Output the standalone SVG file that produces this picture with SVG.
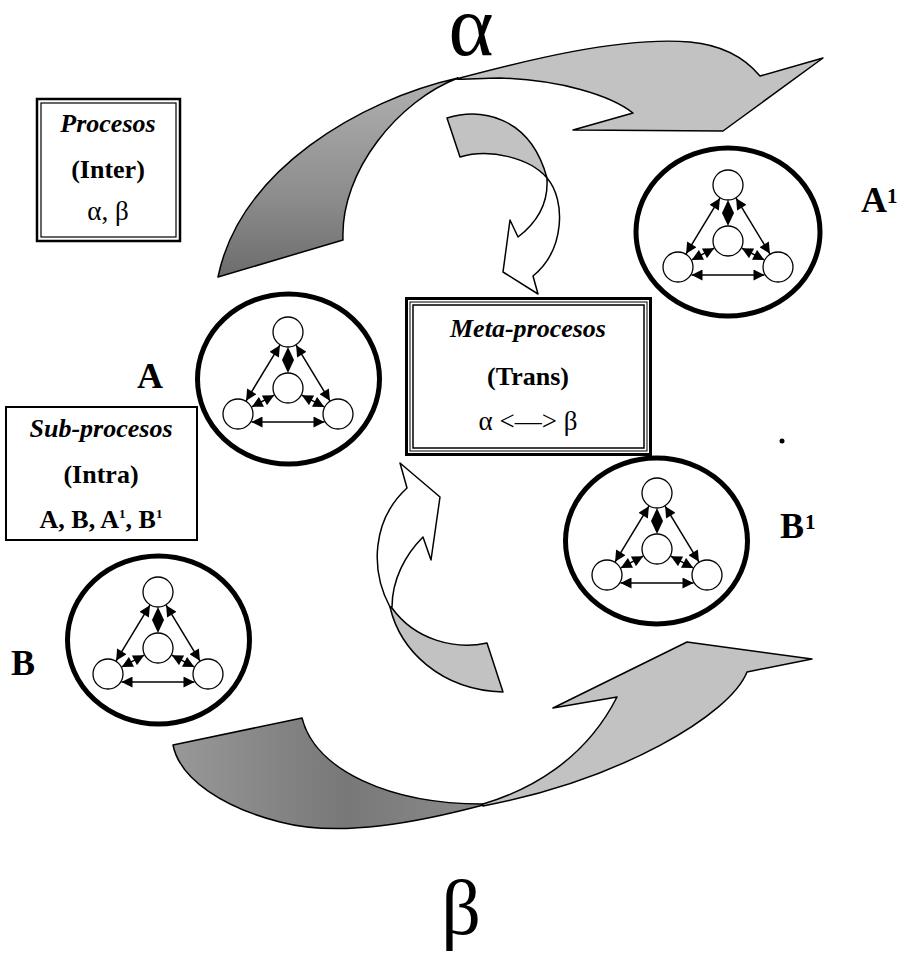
<svg xmlns="http://www.w3.org/2000/svg" xmlns:xlink="http://www.w3.org/1999/xlink" width="903" height="955" viewBox="0 0 903 955">
<style>
  text { font-family: "Liberation Serif", "Times New Roman", serif; fill: #000; }
  .bi { font-weight: bold; font-style: italic; font-size: 26px; }
  .b { font-weight: bold; font-size: 26px; }
  .r { font-size: 27px; }
  .lbl { font-weight: bold; font-size: 36px; }
  .sup { font-weight: bold; font-size: 21px; }
  .big { stroke: #000; stroke-width: 5; fill: #fff; }
  .node { stroke: #000; stroke-width: 1.3; fill: #fff; }
  .link { stroke: #000; stroke-width: 1.5; fill: none; marker-start: url(#ah); marker-end: url(#ah); }
  .shape { stroke: #000; stroke-width: 1.5; stroke-linejoin: round; }
  .light { fill: #c2c2c2; }
  .white { fill: #fff; }
</style>
<defs>
  <marker id="ah" viewBox="0 0 10 10" refX="10" refY="5" markerWidth="13" markerHeight="11" markerUnits="userSpaceOnUse" orient="auto-start-reverse">
    <path d="M0,0 L10,5 L0,10 Z" fill="#000"/>
  </marker>
  <linearGradient id="darkTop" x1="0" y1="80" x2="0" y2="277" gradientUnits="userSpaceOnUse">
    <stop offset="0" stop-color="#b0b0b0"/>
    <stop offset="0.6" stop-color="#8c8c8c"/>
    <stop offset="1" stop-color="#6c6c6c"/>
  </linearGradient>
  <linearGradient id="darkBot" x1="173" y1="0" x2="487" y2="0" gradientUnits="userSpaceOnUse">
    <stop offset="0" stop-color="#989898"/>
    <stop offset="0.55" stop-color="#787878"/>
    <stop offset="1" stop-color="#8c8c8c"/>
  </linearGradient>
  <g id="motif">
    <line class="link" x1="-8.1" y1="-34.8" x2="-41.9" y2="20.8"/>
    <line class="link" x1="8.1" y1="-34.8" x2="41.9" y2="20.8"/>
    <line class="link" x1="-13.8" y1="15.2" x2="-36.3" y2="26.9"/>
    <line class="link" x1="13.8" y1="15.2" x2="36.3" y2="26.9"/>
    <line class="link" x1="-36.5" y1="42" x2="36.5" y2="42"/>
    <polygon points="0,-33 6,-20 0,-7 -6,-20" fill="#000"/>
    <circle class="node" cx="0" cy="-48" r="15"/>
    <circle class="node" cx="0" cy="8" r="15"/>
    <circle class="node" cx="-50" cy="34" r="15"/>
    <circle class="node" cx="50" cy="34" r="15"/>
  </g>
</defs>
<rect x="0" y="0" width="903" height="955" fill="#fff"/>

<g id="connectors">
  <g id="arrow-alpha">
    <path class="shape" fill="url(#darkTop)" d="M458,78 C360,100 240,170 218,277 L343,240 C340,170 400,100 458,78 Z"/>
    <path class="shape light" d="M456,79 C520,62 620,36 690,42 C722,45 745,58 760,76 L823,58 L723,131 L573,130 L633,113 C610,95 560,80 500,78 C480,78 466,80 456,79 Z"/>
  </g>
  <g id="arrow-down">
    <path class="shape light" d="M447,118 C480,108 530,115 547,178 C530,158 490,148 460,157 Z"/>
    <path class="shape white" d="M547,178 C566,200 565,250 533,276 L538,294 L503,272 L510,220 L518,237 C540,220 548,200 547,180 Z"/>
  </g>
  <g id="arrow-up">
    <path class="shape white" d="M390,607 C370,570 372,520 407,488 L400,463 L440,497 L431,560 L423,537 C405,555 392,580 392,607 Z"/>
    <path class="shape light" d="M390,607 C400,650 440,690 503,692 L487,643 C455,650 415,640 392,608 Z"/>
  </g>
  <g id="arrow-beta">
    <path class="shape" fill="url(#darkBot)" d="M173,745 L302,718 C315,770 390,805 487,804 C420,822 340,838 280,822 C225,808 180,780 173,745 Z"/>
    <path class="shape light" d="M483,804 C530,790 585,760 617,697 L553,708 L687,642 L812,659 L747,672 C730,715 620,780 483,806 Z"/>
  </g>
</g>

<g id="box-procesos">
  <rect x="37" y="99" width="143" height="142" fill="#fff" stroke="#000" stroke-width="2.5"/>
  <rect x="41" y="103" width="135" height="134" fill="none" stroke="#000" stroke-width="1.2"/>
  <text class="bi" x="108" y="132" text-anchor="middle">Procesos</text>
  <text class="b" x="108" y="178" text-anchor="middle">(Inter)</text>
  <text class="r" x="108" y="220" text-anchor="middle">α, β</text>
</g>

<g id="box-subprocesos">
  <rect x="6" y="407" width="191" height="133" fill="#fff" stroke="#000" stroke-width="2"/>
  <text class="bi" x="101" y="437" text-anchor="middle">Sub-procesos</text>
  <text class="b" x="101" y="483" text-anchor="middle">(Intra)</text>
  <text class="b" x="101" y="528" text-anchor="middle">A, B, A<tspan font-size="13" dy="-10">1</tspan><tspan dy="10">, B</tspan><tspan font-size="13" dy="-10">1</tspan></text>
</g>

<g id="box-metaprocesos">
  <rect x="406.5" y="298.5" width="244" height="156" fill="#fff" stroke="#000" stroke-width="3"/>
  <rect x="410" y="302" width="237" height="149" fill="none" stroke="#000" stroke-width="1"/>
  <rect x="413" y="305" width="231" height="143" fill="none" stroke="#000" stroke-width="1.5"/>
  <text class="bi" x="528" y="337" text-anchor="middle">Meta-procesos</text>
  <text class="b" x="528" y="385" text-anchor="middle">(Trans)</text>
  <text class="r" x="528" y="430" text-anchor="middle">α  &lt;—&gt; β</text>
</g>

<g id="node-A">
  <ellipse class="big" cx="288.5" cy="379" rx="91" ry="85"/>
  <use xlink:href="#motif" href="#motif" transform="translate(288,380)"/>
  <text class="lbl" x="150" y="388" text-anchor="middle">A</text>
</g>

<g id="node-A1">
  <ellipse class="big" cx="728" cy="232" rx="92" ry="84"/>
  <use xlink:href="#motif" href="#motif" transform="translate(728,233)"/>
  <text class="lbl" x="861" y="212">A</text>
  <text class="sup" x="887" y="203">1</text>
</g>

<g id="node-B1">
  <ellipse class="big" cx="656.5" cy="541" rx="91" ry="83"/>
  <use xlink:href="#motif" href="#motif" transform="translate(657,541)"/>
  <text class="lbl" x="780" y="538">B</text>
  <text class="sup" x="805" y="529">1</text>
</g>

<g id="node-B">
  <ellipse class="big" cx="158.5" cy="640" rx="91" ry="84"/>
  <use xlink:href="#motif" href="#motif" transform="translate(158,640)"/>
  <text class="lbl" x="11" y="675">B</text>
</g>

<g id="labels">
  <text x="471" y="55" font-size="86" text-anchor="middle">α</text>
  <text x="461" y="934" font-size="78" text-anchor="middle">β</text>
  <circle cx="782" cy="441" r="2.5" fill="#000"/>
</g>
</svg>
